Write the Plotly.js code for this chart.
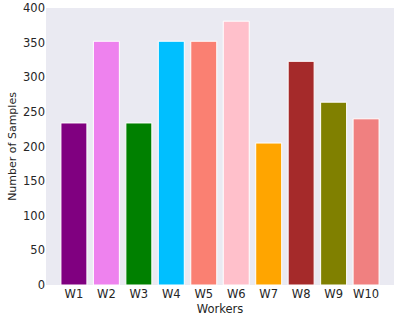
<!DOCTYPE html>
<html>
<head>
<meta charset="utf-8">
<script src="https://cdn.plot.ly/plotly-3.0.1.min.js"></script>
<style>
  html, body { margin: 0; padding: 0; background: #fff; }
  #chart { width: 399px; height: 320px; }
</style>
</head>
<body>
<div id="chart"></div>
<script>
// workers and sample counts
const workers = ['W1', 'W2', 'W3', 'W4', 'W5', 'W6', 'W7', 'W8', 'W9', 'W10'];
const samples = [234, 352, 234, 352, 352, 381, 205, 323, 264, 240];
const barColors = ['purple', 'violet', 'green', 'deepskyblue', 'salmon',
                   'pink', 'orange', 'brown', 'olive', 'lightcoral'];
const yTicks = [0, 50, 100, 150, 200, 250, 300, 350, 400];

const trace = {
    type: 'bar',
    x: workers.map((_, i) => i),
    y: samples,
    width: 0.8,
    marker: { color: barColors, line: { color: '#ffffff', width: 1 } },
    hoverinfo: 'x+y'
};

const layout = {
    width: 399, height: 320,
    margin: { l: 46, r: 5, t: 8, b: 35 },
    paper_bgcolor: '#ffffff',
    plot_bgcolor: '#EAEAF2',
    font: { family: 'DejaVu Sans', size: 11.5, color: '#262626' },
    showlegend: false,
    xaxis: {
        range: [-0.86, 9.86],
        tickvals: workers.map((_, i) => i),
        ticktext: workers,
        showgrid: false, zeroline: false, showline: false,
        ticks: '', ticklen: 0,
        title: { text: 'Workers', font: { size: 11.5 }, standoff: 5 }
    },
    yaxis: {
        range: [0, 400],
        tickvals: yTicks,
        showgrid: false, zeroline: false, showline: false,
        ticks: '',
        title: { text: 'Number of Samples', font: { size: 11 }, standoff: 4 }
    }
};

Plotly.newPlot('chart', [trace], layout, { displayModeBar: false, staticPlot: true });
</script>
</body>
</html>
